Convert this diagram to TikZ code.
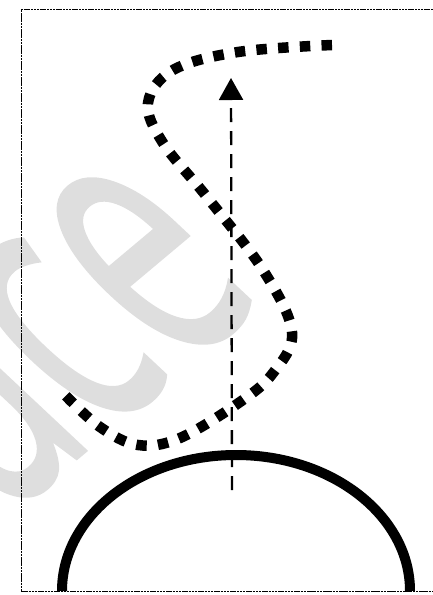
\documentclass[tikz,border=0pt]{standalone}
\usepackage{fontspec}
\newfontfamily\wmfont[FakeBold=1]{Open Sans}
\usetikzlibrary{arrows.meta}
\tikzset{
  frameline/.style={line width=1pt, dash pattern=on 2.5pt off 0.7pt},
  dome/.style={line width=10pt},
  squaredots/.style={line width=10.5pt, dash pattern=on 10.5pt off 11.25pt},
  flowarrow/.style={line width=2.3pt, dash pattern=on 14pt off 9pt, -{Triangle[length=22pt,width=24pt]}},
  watermark/.style={text=black!13, transform shape, font=\wmfont\fontsize{390}{390}\selectfont, inner sep=0pt}
}
\begin{document}
\begin{tikzpicture}[x=1pt,y=-1pt]
\useasboundingbox (0,0) rectangle (433,595);
\begin{scope}
\clip (0,0) rectangle (433,595);
\begin{scope}[shift={(62,334)}, rotate=40, xslant=-0.12, xscale=0.55]
\node[watermark] (wm) at (0,0) {ace};
\end{scope}
\end{scope}
% frame
\coordinate (fTL) at (21,9);
\coordinate (fTR) at (433,9);
\coordinate (fBL) at (21,591);
\coordinate (fBR) at (433,591);
\draw[frameline] (fTR) -- (fTL) -- (fBL) -- (fBR);
% dome
\coordinate (domeL) at (62,591);
\draw[dome] (domeL) arc[start angle=180, end angle=0, x radius=174, y radius=-136];
% dashed arrow
\coordinate (aS) at (232,490);
\coordinate (aE) at (231,78);
\draw[flowarrow] (aS) -- (aE);
% dotted flow line
\draw[squaredots] plot[smooth, tension=0.6] coordinates {(332,45) (238,52) (173,70) (148,103) (163,143) (207,197) (263,270) (292,332) (273,373) (240,402) (180,438) (138,445) (100,427) (65,395)};
\end{tikzpicture}
\end{document}
